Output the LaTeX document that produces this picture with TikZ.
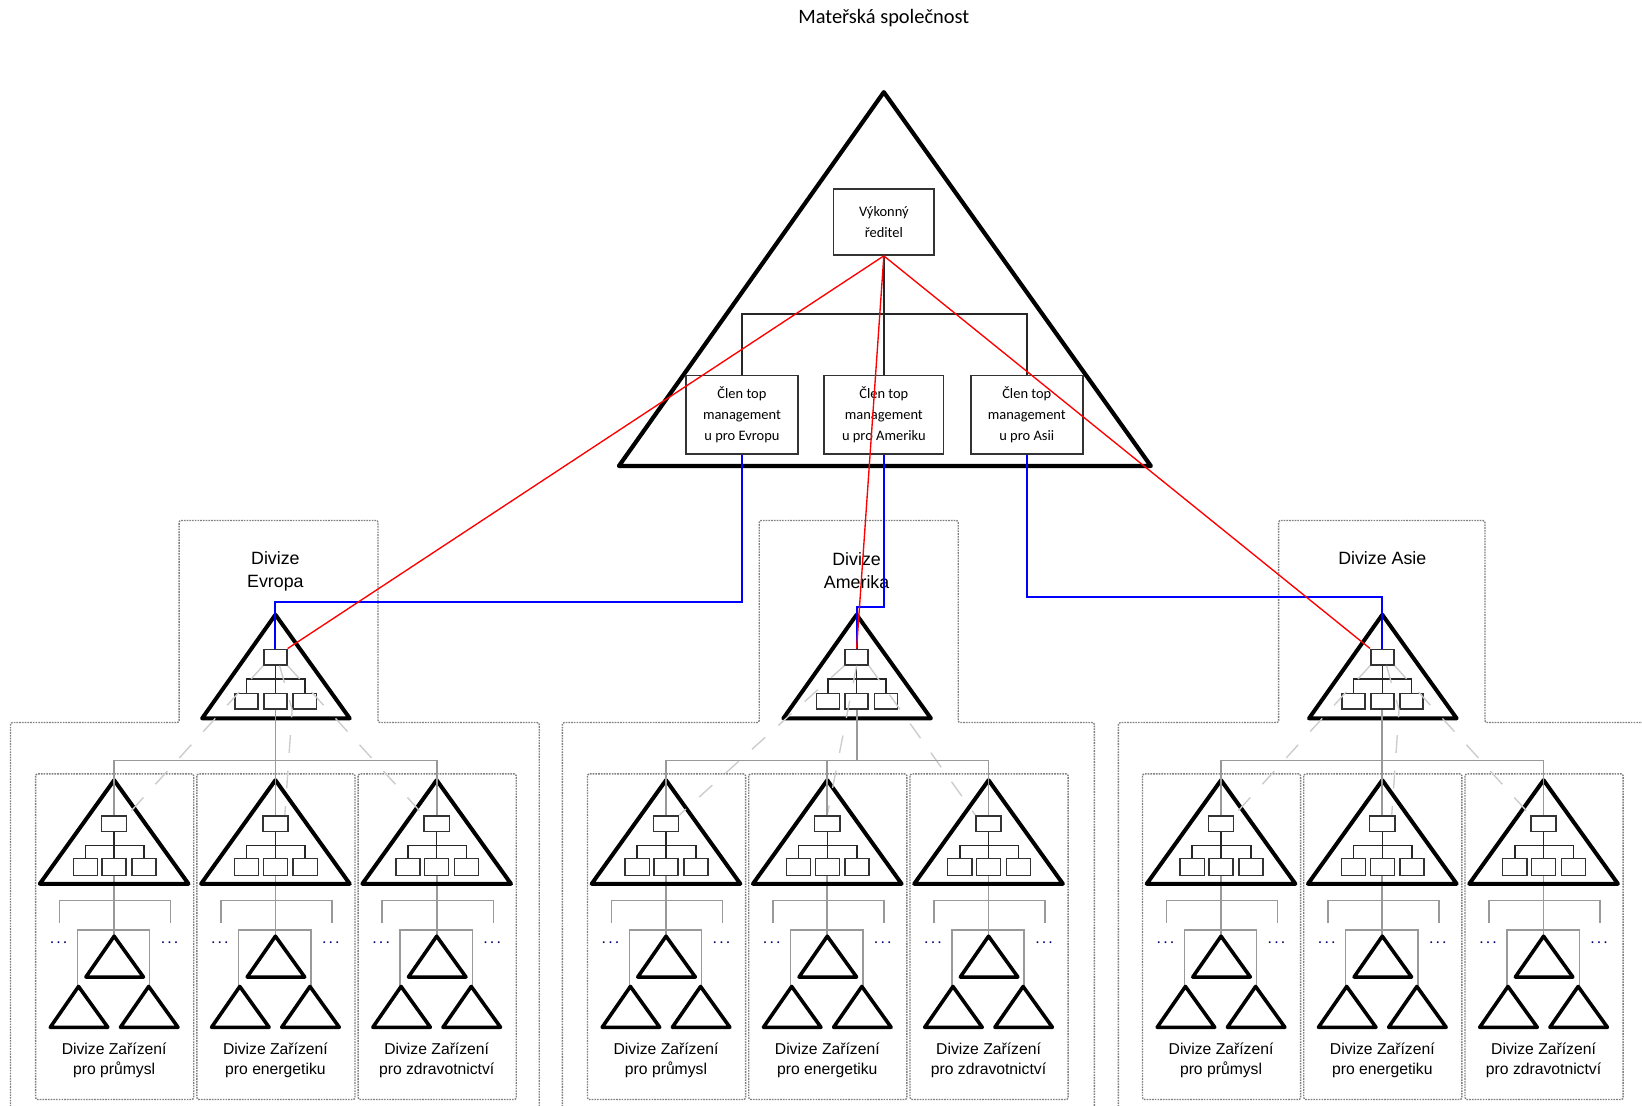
\documentclass[tikz,border=0pt]{standalone}
\usepackage{fontspec}
\setmainfont{Carlito}
\newfontfamily\arialf{Liberation Sans}
\begin{document}
\newcommand\mydiv[2]{% name, cx
  \draw[tri] (#2,587) -- (#2-70,686) -- (#2+71,686) -- cycle;
  \node[sbox] (#1t) at (#2,627.5) {};
  \node[sbox] (#1l) at (#2-27.5,669.5) {};
  \node[sbox] (#1m) at (#2,669.5) {};
  \node[sbox] (#1r) at (#2+28,669.5) {};
  \draw[blk] (#1t) -- (#1m);
  \draw[blk] (#1l.north) -- ++(0,-13) -| (#1r.north);
}
\newcommand\mysub[3]{% name, cx, second line
  \draw[region, rounded corners=2pt] (#2-75,739) rectangle (#2+76,1050);
  \draw[gry] (#2,836) -- (#2,894);
  \draw[gry, line width=1.4pt] (#2-52,881) |- (#2+54,860) -- (#2+54,881);
  \draw[gry, line width=1.3pt] (#2-35,942) |- (#2+34,888) -- (#2+34,942);
  \draw[tri] (#2,745) -- (#2-71,844) -- (#2+71,844) -- cycle;
  \node[sbox, minimum width=24pt] (#1t) at (#2,786.5) {};
  \node[sbox, minimum width=23pt, minimum height=16pt] (#1l) at (#2-27.5,828) {};
  \node[sbox, minimum width=23pt, minimum height=16pt] (#1m) at (#2,828) {};
  \node[sbox, minimum width=23pt, minimum height=16pt] (#1r) at (#2+28.5,828) {};
  \draw[blk] (#1t) -- (#1m);
  \draw[blk] (#1l.north) -- ++(0,-12) -| (#1r.north);
  \draw[stri] (#2,894) -- (#2-27,933) -- (#2+28,933) -- cycle;
  \draw[stri] (#2-34,942) -- (#2-61,981) -- (#2-6,981) -- cycle;
  \draw[stri] (#2+33,942) -- (#2+6,981) -- (#2+61,981) -- cycle;
  \node[dots] (#1dl) at (#2-53,900) {.\,.\,.};
  \node[dots] (#1dr) at (#2+53,900) {.\,.\,.};
  \node[sublab] (#1lab) at (#2,1012.5) {Divize Zařízení\\#3};
}
\begin{tikzpicture}[x=1pt,y=-1pt,
  tri/.style={black, line width=3.8pt, line join=round},
  stri/.style={black, line width=3.4pt, line join=round},
  mgr/.style={draw=black!80, line width=1.7pt, fill=white, align=center, inner sep=0pt,
    font=\fontsize{13.8}{20}\selectfont},
  sbox/.style={draw=black!80, line width=1.4pt, fill=white, minimum width=22pt,
    minimum height=15pt, inner sep=0pt},
  blk/.style={black!85, line width=1.5pt},
  gry/.style={black!40, line width=1.7pt},
  ghost/.style={black!20, line width=1.3pt, dash pattern=on 17pt off 17pt},
  region/.style={black!50, line width=1.3pt, dash pattern=on 1.6pt off 1pt},
  redl/.style={red, line width=1.3pt},
  bluel/.style={blue, line width=1.8pt},
  dots/.style={text=black!55!blue, font=\fontsize{15}{15}\selectfont, inner sep=0pt},
  sublab/.style={align=center, font=\arialf\fontsize{15}{19}\selectfont, inner sep=0pt},
  divlab/.style={align=center, font=\arialf\fontsize{17}{22}\selectfont, inner sep=0pt},
]
\clip (0,0) rectangle (1568,1056);
\fill[white] (0,0) rectangle (1568,1056);

% title
\node[font=\fontsize{19.5}{22}\selectfont, inner sep=0pt] (title) at (844,17) {Mateřská společnost};

% division regions
\draw[region, rounded corners=2pt] (10,1070) -- (10,690) -- (171,690) -- (171,497) -- (361,497) -- (361,690) -- (515,690) -- (515,1070);
\draw[region, rounded corners=2pt] (537,1070) -- (537,690) -- (725,690) -- (725,497) -- (915,497) -- (915,690) -- (1045,690) -- (1045,1070);
\draw[region, rounded corners=2pt] (1068,1070) -- (1068,690) -- (1221,690) -- (1221,497) -- (1418,497) -- (1418,690) -- (1580,690);

\node[divlab] (eulab) at (263,546) {Divize\\Evropa};
\node[divlab] (amlab) at (818,545) {Divize\\Amerika};
\node[divlab] (aslab) at (1320,533) {Divize Asie};

% top pyramid
\draw[tri, line width=4pt] (844,88) -- (591,445) -- (1099,445) -- cycle;
\node[mgr, minimum width=96pt, minimum height=63pt] (ceo) at (844,212) {Výkonný\\ředitel};
\node[mgr, minimum width=107pt, minimum height=75pt] (cleu) at (708.5,396) {Člen top\\management\\u pro Evropu};
\node[mgr, minimum width=114pt, minimum height=75pt] (clam) at (844,396) {Člen top\\management\\u pro Ameriku};
\node[mgr, minimum width=107pt, minimum height=75pt] (clas) at (980.5,396) {Člen top\\management\\u pro Asii};
\draw[black!85, line width=2pt] (ceo.south) -- (clam.north);
\draw[black!85, line width=2pt] (cleu.north) -- ++(0,-57.5) -| (clas.north);

% sub units
\mysub{e1}{109}{pro průmysl}
\mysub{e2}{263}{pro energetiku}
\mysub{e3}{417}{pro zdravotnictví}
\mysub{a1}{636}{pro průmysl}
\mysub{a2}{790}{pro energetiku}
\mysub{a3}{944}{pro zdravotnictví}
\mysub{s1}{1166}{pro průmysl}
\mysub{s2}{1320}{pro energetiku}
\mysub{s3}{1474}{pro zdravotnictví}

% division units
\mydiv{eu}{263}
\mydiv{am}{818}
\mydiv{as}{1320}

% ghost links (faint dashed)
\begin{scope}[ghost]
\draw (eut.south west) -- (e1t.north east);
\draw (eut.south east) -- (e3t.north west);
\draw ([xshift=4pt]eut.south) -- ([xshift=16pt]eum.south) -- ([xshift=9pt]e2t.north);
\draw (amt.south west) -- (a1t.north east);
\draw (amt.south) -- (a2t.north);
\draw (amt.south east) -- (a3t.north west);
\draw (ast.south west) -- (s1t.north east);
\draw (ast.south east) -- (s3t.north west);
\draw ([xshift=4pt]ast.south) -- ([xshift=16pt]asm.south) -- ([xshift=9pt]s2t.north);
\end{scope}

% grey division-to-sub connectors
\coordinate (eubar) at (263,727);
\coordinate (ambar) at (818,727);
\coordinate (asbar) at (1320,727);
\draw[gry] (eum.south) -- (eubar) -- (e2t.north);
\draw[gry] (e1t.north) -- ++(0,-52) -| (e3t.north);
\draw[gry] (amm.south) -- (ambar);
\draw[gry] (a1t.north) -- ++(0,-52) -| (a3t.north);
\draw[gry] (a2t.north) -- ++(0,-52);
\draw[gry] (asm.south) -- (asbar) -- (s2t.north);
\draw[gry] (s1t.north) -- ++(0,-52) -| (s3t.north);

% blue reporting lines
\coordinate (eubend) at (263,575);
\coordinate (ambend) at (818,580);
\coordinate (asbend) at (1320,570);
\draw[bluel] (cleu.south) |- (eubend) -- (eut.north);
\draw[bluel] (clam.south) |- (ambend) -- (amt.north);
\draw[bluel] (clas.south) |- (asbend) -- (ast.north);

% red lines
\draw[redl] (ceo.south) -- (eut.north east);
\draw[redl] (ceo.south) -- (amt.north);
\draw[redl] (ceo.south) -- (ast.north west);
\end{tikzpicture}
\end{document}
